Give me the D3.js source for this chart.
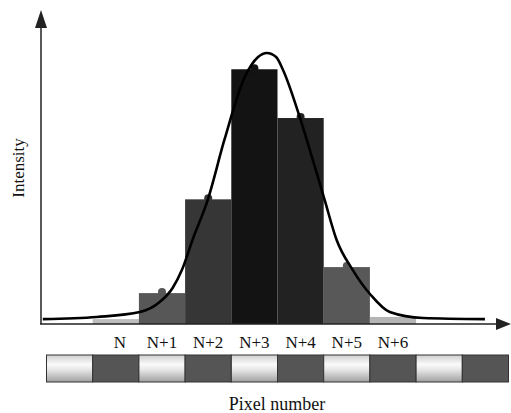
<!DOCTYPE html>
<html>
<head>
<meta charset="utf-8">
<script src="https://cdn.jsdelivr.net/npm/d3@7"></script>
<style>
  html, body { margin: 0; padding: 0; background: #ffffff; }
  svg { display: block; }
</style>
</head>
<body>
<div id="chart"></div>
<script>
// Pixel labels under the bars (index 0 = N)
const pixelLabels = ["N", "N+1", "N+2", "N+3", "N+4", "N+5", "N+6"];
// Bar intensity (peak of fit = 100)
const barValues = [1.8, 11.4, 46, 94, 76, 21, 2.6];
const barColors = ["#bdbdbd", "#575757", "#363636", "#131313", "#222222", "#585858", "#b5b5b5"];
// Bars that show a sample dot on their top edge
const dotBars = [1, 2, 3, 4, 5];

// Fitted curve, read point by point (x in pixel units, y in intensity)
const curveX = [-1.58, -0.41, 0.52, 0.95, 1.23, 1.43, 1.66, 1.99, 2.35, 2.79, 3.08, 3.27, 3.47, 3.61, 3.98, 4.20, 4.52, 4.78, 5.13, 5.52, 5.93, 6.65, 7.99];
const curveY = [1.8, 2.6, 4.4, 8.1, 13.3, 19.9, 31, 45.8, 67.9, 91.1, 98.5, 100, 98.5, 94.1, 76.4, 64.2, 45.8, 31, 19.9, 10.7, 4.4, 2.2, 1.8];

// Detector strip cells (index -1 .. 8), light/dark alternating
const stripCells = [-1, 0, 1, 2, 3, 4, 5, 6, 7, 8];

const W = 511, H = 413;
const FONT = "'Liberation Serif', 'Times New Roman', Times, serif";

const svg = d3.select("#chart").append("svg")
    .attr("width", W)
    .attr("height", H);

// Scales: one unit = one pixel of the detector
const x = d3.scaleLinear().domain([-1.5, 8.5]).range([46.5, 508.5]);
const y = d3.scaleLinear().domain([0, 100]).range([324, 53]);

const axisX0 = 41;     // where the y axis stands
const axisTop = 10;    // tip of the y arrow
const axisRight = 511; // tip of the x arrow

const defs = svg.append("defs");
const grad = defs.append("linearGradient")
    .attr("id", "lightCell")
    .attr("x1", 0).attr("y1", 0).attr("x2", 0).attr("y2", 1);
grad.append("stop").attr("offset", "0%").attr("stop-color", "#cfcfcf");
grad.append("stop").attr("offset", "35%").attr("stop-color", "#fafafa");
grad.append("stop").attr("offset", "55%").attr("stop-color", "#e6e6e6");
grad.append("stop").attr("offset", "100%").attr("stop-color", "#a0a0a0");

// Bars
svg.append("g").selectAll("rect")
    .data(barValues)
    .enter().append("rect")
        .attr("x", function (d, i) { return x(i - 0.5); })
        .attr("width", function (d, i) { return x(i + 0.5) - x(i - 0.5); })
        .attr("y", function (d) { return y(d); })
        .attr("height", function (d) { return y(0) - y(d); })
        .attr("fill", function (d, i) { return barColors[i]; });

// Sample dots on the bar tops
svg.append("g").selectAll("circle")
    .data(dotBars)
    .enter().append("circle")
        .attr("cx", function (i) { return x(i); })
        .attr("cy", function (i) { return y(barValues[i]) - 1; })
        .attr("r", 4)
        .attr("fill", function (i) { return barColors[i]; });

// Fitted curve
const curvePts = curveX.map(function (v, i) { return [v, curveY[i]]; });
svg.append("path")
    .datum(curvePts)
    .attr("fill", "none")
    .attr("stroke", "#000")
    .attr("stroke-width", 2.6)
    .attr("d", d3.line()
        .x(function (d) { return x(d[0]); })
        .y(function (d) { return y(d[1]); })
        .curve(d3.curveMonotoneX));

// Axes with arrow heads
const axisG = svg.append("g");
axisG.append("line")
    .attr("x1", axisX0).attr("y1", y(0))
    .attr("x2", axisX0).attr("y2", axisTop + 16)
    .attr("stroke", "#222").attr("stroke-width", 1.5);
axisG.append("path")
    .attr("d", "M" + axisX0 + "," + axisTop + "L" + (axisX0 - 6) + "," + (axisTop + 18) + "L" + (axisX0 + 6) + "," + (axisTop + 18) + "Z")
    .attr("fill", "#222");
axisG.append("line")
    .attr("x1", axisX0 - 1).attr("y1", y(0))
    .attr("x2", axisRight - 12).attr("y2", y(0))
    .attr("stroke", "#222").attr("stroke-width", 1.5);
axisG.append("path")
    .attr("d", "M" + axisRight + "," + y(0) + "L" + (axisRight - 15) + "," + (y(0) - 6) + "L" + (axisRight - 15) + "," + (y(0) + 6) + "Z")
    .attr("fill", "#222");

// Pixel labels
svg.append("g").selectAll("text")
    .data(pixelLabels)
    .enter().append("text")
        .attr("x", function (d, i) { return x(i) + (i === 0 ? 4 : 0); })
        .attr("y", 348)
        .attr("text-anchor", "middle")
        .style("font-family", FONT)
        .style("font-size", "17px")
        .style("fill", "#111")
        .text(function (d) { return d; });

// Detector strip
svg.append("g").selectAll("rect")
    .data(stripCells)
    .enter().append("rect")
        .attr("x", function (d) { return x(d - 0.5); })
        .attr("width", function (d) { return x(d + 0.5) - x(d - 0.5); })
        .attr("y", 355)
        .attr("height", 27)
        .attr("fill", function (d, i) { return i % 2 === 0 ? "url(#lightCell)" : "#555555"; })
        .attr("stroke", "#333")
        .attr("stroke-width", 1);

// Axis titles
svg.append("text")
    .attr("transform", "translate(24,168) rotate(-90)")
    .attr("text-anchor", "middle")
    .style("font-family", FONT)
    .style("font-size", "17px")
    .style("fill", "#111")
    .text("Intensity");

svg.append("text")
    .attr("x", 277)
    .attr("y", 410)
    .attr("text-anchor", "middle")
    .style("font-family", FONT)
    .style("font-size", "18px")
    .style("fill", "#111")
    .text("Pixel number");
</script>
</body>
</html>
